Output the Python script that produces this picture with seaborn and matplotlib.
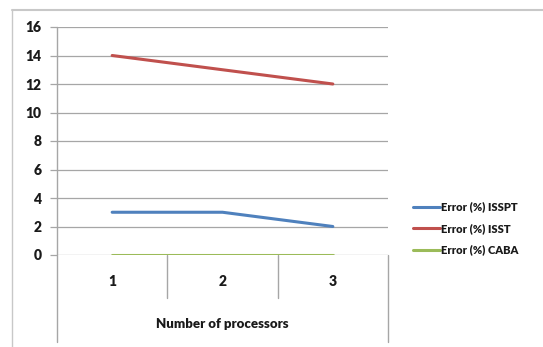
import matplotlib
matplotlib.use("Agg")
import matplotlib.pyplot as plt
import seaborn as sns
import pandas as pd

processors = [1, 2, 3]
err_isspt = [3, 3, 2]
err_isst = [14, 13, 12]
err_caba = [0, 0, 0]
series_names = ["Error (%) ISSPT", "Error (%) ISST", "Error (%) CABA"]
colors = ["#4F81BD", "#C0504D", "#9BBB59"]
y_ticks = [0, 2, 4, 6, 8, 10, 12, 14, 16]

df = pd.DataFrame({
    "proc": processors * 3,
    "err": err_isspt + err_isst + err_caba,
    "series": [s for s in series_names for _ in processors],
})

sns.set_style("white")
plt.rcParams["font.family"] = ["Lato", "DejaVu Sans"]

W, H = 543, 347
fig = plt.figure(figsize=(W / 100, H / 100), dpi=100)

def fx(px):
    return px / W

def fy(py):
    return 1 - py / H

text_c = "#1A1A1A"
weight = "heavy"

# outer chart border (top and left)
fig.add_artist(plt.Line2D([fx(12), fx(543)], [fy(10), fy(10)], color="#C8C8C8", lw=1.5))
fig.add_artist(plt.Line2D([fx(12), fx(12)], [fy(10), fy(347)], color="#C8C8C8", lw=1.0))

ax = fig.add_axes([fx(57), fy(255), fx(388) - fx(57), fy(27) - fy(255)])
grid_c = "#A6A6A6"
for t in y_ticks:
    ax.axhline(t, color=grid_c, lw=0.9, zorder=0)

sns.lineplot(data=df, x="proc", y="err", hue="series", palette=colors,
             linewidth=2.2, ax=ax, legend=True, zorder=3)

ax.set_xlim(0.5, 3.5)
ax.set_ylim(0, 16)
for s in ax.spines.values():
    s.set_visible(False)
ax.set_yticks(y_ticks)
ax.set_yticklabels([str(t) for t in y_ticks], fontsize=10, fontweight=weight, color=text_c)
ax.tick_params(axis="y", length=5, width=0.9, color=grid_c, pad=6, left=True)
ax.set_xticks([])
ax.set_xlabel("")
ax.set_ylabel("")

tr = ax.transAxes
h = fy(27) - fy(255)
def ay(py):
    return (fy(py) - fy(255)) / h

# value axis line, extended through the category area
ax.plot([0, 0], [1, ay(342)], transform=tr, color=grid_c, lw=1.0, clip_on=False)
# category separators and right boundary
for xa, bottom in [(1 / 3, 298), (2 / 3, 298), (1.0, 342)]:
    ax.plot([xa, xa], [0, ay(bottom)], transform=tr, color=grid_c, lw=1.0, clip_on=False)

# category labels
for i, p in enumerate(processors):
    ax.text((i + 0.5) / 3, ay(281), str(p), transform=tr, ha="center", va="center",
            fontsize=10, fontweight=weight, color=text_c)
ax.text(0.5, ay(324), "Number of processors", transform=tr, ha="center", va="center",
        fontsize=9.5, fontweight=weight, color=text_c)

leg = ax.legend(loc="upper left", bbox_to_anchor=(fx(409), fy(197)),
                bbox_transform=fig.transFigure, frameon=False,
                prop={"size": 8, "weight": weight}, handlelength=2.4,
                handletextpad=0.1, labelspacing=0.95, borderaxespad=0)
for t in leg.get_texts():
    t.set_color(text_c)
for l in leg.get_lines():
    l.set_linewidth(2.2)

fig.savefig("out.png", dpi=100, facecolor="white")
